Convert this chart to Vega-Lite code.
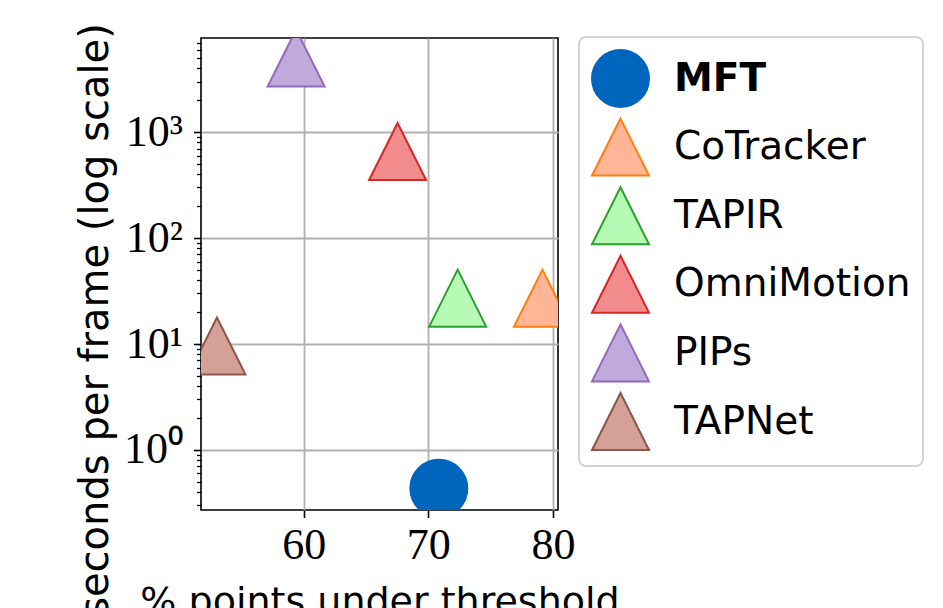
{
  "$schema": "https://vega.github.io/schema/vega-lite/v6.json",
  "width": 357,
  "height": 472,
  "autosize": {"type": "none"},
  "padding": {"left": 201, "top": 38, "right": 385, "bottom": 98},
  "background": "white",
  "config": {
    "view": {"stroke": "#000000", "strokeWidth": 1.6},
    "axis": {"labelColor": "#000000", "tickColor": "#000000", "titleColor": "#000000", "titleFontWeight": "normal"}
  },
  "data": {
    "values": [
      {"method": "MFT", "accuracy": 70.84, "spf": 0.435},
      {"method": "CoTracker", "accuracy": 79.15, "spf": 27.1},
      {"method": "TAPIR", "accuracy": 72.35, "spf": 27.1},
      {"method": "OmniMotion", "accuracy": 67.53, "spf": 656},
      {"method": "PIPs", "accuracy": 59.39, "spf": 4990},
      {"method": "TAPNet", "accuracy": 53.04, "spf": 9.58}
    ]
  },
  "layer": [
    {
      "mark": {"type": "point", "filled": true, "opacity": 1, "fillOpacity": 1, "strokeWidth": 2, "size": 3249, "clip": true},
      "encoding": {
        "x": {
          "field": "accuracy", "type": "quantitative",
          "scale": {"domain": [51.76, 80.4], "nice": false, "zero": false},
          "axis": {
            "values": [60, 70, 80], "domain": false, "grid": true, "gridColor": "#b0b0b0", "gridWidth": 1.8,
            "tickSize": 7.5, "tickWidth": 1.6, "labelFont": "Liberation Serif", "labelFontSize": 44, "labelPadding": 6,
            "title": "% points under threshold", "titleFont": "DejaVu Sans", "titleFontSize": 38,
            "titleBaseline": "alphabetic", "titleY": 103
          }
        },
        "y": {
          "field": "spf", "type": "quantitative",
          "scale": {"type": "log", "domain": [0.2713, 7727], "nice": false},
          "axis": {
            "orient": "left", "values": [1, 10, 100, 1000], "domain": false, "grid": true, "gridColor": "#b0b0b0", "gridWidth": 1.8,
            "tickSize": 7.5, "tickWidth": 1.6, "labelFont": "Liberation Serif", "labelFontSize": 44, "labelPadding": 11,
            "labelExpr": "'10' + ['⁰','¹','²','³'][round(log(datum.value)/LN10)]",
            "title": "seconds per frame (log scale)", "titleFont": "DejaVu Sans", "titleFontSize": 40,
            "titleAlign": "center", "titleBaseline": "alphabetic", "titleX": -94, "titleY": 282
          }
        },
        "shape": {
          "field": "method", "type": "nominal",
          "scale": {
            "domain": ["MFT", "CoTracker", "TAPIR", "OmniMotion", "PIPs", "TAPNet"],
            "range": ["M-1,0A1,1 0 1,0 1,0A1,1 0 1,0 -1,0Z", "M0,-1L1,1L-1,1Z", "M0,-1L1,1L-1,1Z", "M0,-1L1,1L-1,1Z", "M0,-1L1,1L-1,1Z", "M0,-1L1,1L-1,1Z"]
          },
          "legend": {
            "title": null, "orient": "none", "legendX": 378, "legendY": -1, "padding": 12,
            "symbolSize": 3249, "symbolStrokeWidth": 2, "symbolOpacity": 1,
            "labelFont": "DejaVu Sans", "labelFontSize": 39, "labelColor": "#000000", "labelOffset": 24, "labelLimit": 0,
            "rowPadding": 3.6, "strokeColor": "#d4d4d4", "fillColor": "#ffffff", "cornerRadius": 7,
            "encoding": {
              "labels": {"fontWeight": {"condition": {"test": "datum.value === 'MFT'", "value": "bold"}, "value": "normal"}},
              "legend": {"strokeWidth": {"value": 2}}
            }
          }
        },
        "fill": {
          "field": "method", "type": "nominal",
          "scale": {
            "domain": ["MFT", "CoTracker", "TAPIR", "OmniMotion", "PIPs", "TAPNet"],
            "range": ["#0065BD", "#FFB596", "#B5F9B5", "#F28B8B", "#C0A9DB", "#D4A098"]
          },
          "legend": {
            "title": null, "orient": "none", "legendX": 378, "legendY": -1, "padding": 12,
            "symbolSize": 3249, "symbolStrokeWidth": 2, "symbolOpacity": 1,
            "labelFont": "DejaVu Sans", "labelFontSize": 39, "labelColor": "#000000", "labelOffset": 24, "labelLimit": 0,
            "rowPadding": 3.6, "strokeColor": "#d4d4d4", "fillColor": "#ffffff", "cornerRadius": 7,
            "encoding": {
              "labels": {"fontWeight": {"condition": {"test": "datum.value === 'MFT'", "value": "bold"}, "value": "normal"}},
              "legend": {"strokeWidth": {"value": 2}}
            }
          }
        },
        "stroke": {
          "field": "method", "type": "nominal",
          "scale": {
            "domain": ["MFT", "CoTracker", "TAPIR", "OmniMotion", "PIPs", "TAPNet"],
            "range": ["#0065BD", "#FF7F0E", "#2CA02C", "#D62728", "#9467BD", "#8C564B"]
          },
          "legend": {
            "title": null, "orient": "none", "legendX": 378, "legendY": -1, "padding": 12,
            "symbolSize": 3249, "symbolStrokeWidth": 2, "symbolOpacity": 1,
            "labelFont": "DejaVu Sans", "labelFontSize": 39, "labelColor": "#000000", "labelOffset": 24, "labelLimit": 0,
            "rowPadding": 3.6, "strokeColor": "#d4d4d4", "fillColor": "#ffffff", "cornerRadius": 7,
            "encoding": {
              "labels": {"fontWeight": {"condition": {"test": "datum.value === 'MFT'", "value": "bold"}, "value": "normal"}},
              "legend": {"strokeWidth": {"value": 2}}
            }
          }
        }
      }
    },
    {
      "mark": {"type": "point", "opacity": 0},
      "encoding": {
        "y": {
          "field": "spf", "type": "quantitative",
          "axis": {
            "orient": "left", "values": [0.3, 0.4, 0.5, 0.6, 0.7, 0.8, 0.9, 2, 3, 4, 5, 6, 7, 8, 9, 20, 30, 40, 50, 60, 70, 80, 90, 200, 300, 400, 500, 600, 700, 800, 900, 2000, 3000, 4000, 5000, 6000, 7000],
            "labels": false, "grid": false, "domain": false, "tickSize": 4.5, "tickWidth": 1.3, "title": null
          }
        }
      }
    }
  ],
  "resolve": {"axis": {"y": "independent"}}
}
